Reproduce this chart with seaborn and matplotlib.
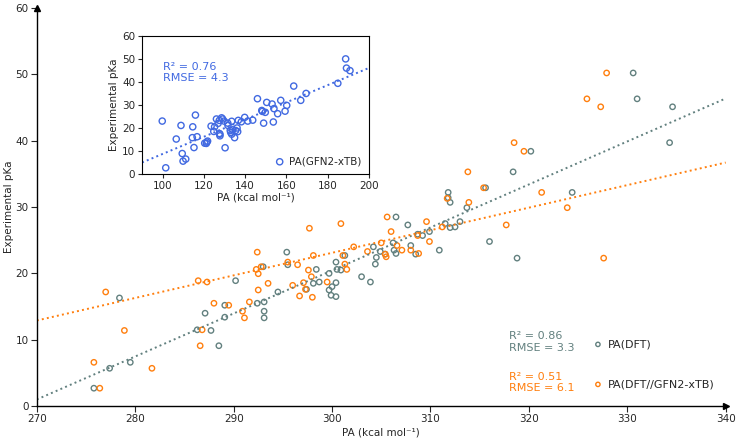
import numpy as np
import pandas as pd
import matplotlib
matplotlib.use("Agg")
import matplotlib.pyplot as plt
import seaborn as sns

# -------------------------------
# Data
# -------------------------------
dft_pa = [275.8, 277.4, 279.5, 287.1, 286.3, 287.7, 288.5, 289.1, 289.1, 292.4,
          293.1, 293.1, 293.1, 278.4, 290.2, 306.5, 307.7, 295.4, 295.5, 293.0,
          300.4, 301.3, 298.4, 299.7, 300.5, 300.9, 298.7, 298.1, 300.4, 297.4,
          299.7, 300.0, 299.9, 300.4, 294.5, 303.0, 303.9, 304.2, 304.4, 304.5,
          304.9, 305.4, 306.2, 306.3, 306.5, 308.0, 308.5, 308.7, 309.2, 320.2,
          318.4, 315.6, 311.8, 311.8, 312.0, 313.7, 324.4, 313.0, 311.5, 312.0,
          312.5, 309.9, 310.9, 316.0, 318.8, 330.6, 331.0, 334.6, 334.3]
dft_pka = [2.7, 5.7, 6.6, 14.0, 11.5, 11.4, 9.1, 15.2, 13.4, 15.5,
           15.7, 14.3, 13.3, 16.3, 18.9, 28.5, 27.3, 23.2, 21.3, 21.0,
           21.7, 22.7, 20.6, 20.0, 20.6, 20.5, 18.7, 18.5, 18.6, 17.6,
           17.5, 18.0, 16.7, 16.5, 17.2, 19.5, 18.7, 24.0, 21.4, 22.4,
           23.3, 22.9, 24.6, 23.5, 23.0, 24.2, 22.9, 25.9, 25.7, 38.4,
           35.3, 32.9, 32.2, 31.4, 30.7, 29.9, 32.2, 27.8, 27.5, 26.9,
           27.0, 26.3, 23.5, 24.8, 22.3, 50.2, 46.3, 45.1, 39.7]

xtb_pa = [275.8, 276.4, 278.9, 281.7, 286.6, 286.8, 288.0, 289.5, 290.9, 291.1,
          291.6, 277.0, 286.4, 287.3, 292.3, 292.4, 292.5, 292.5, 305.6, 297.7,
          300.9, 292.8, 293.5, 295.5, 296.5, 298.1, 297.6, 297.9, 297.1, 296.0,
          297.3, 296.7, 298.0, 299.5, 301.1, 301.3, 301.5, 302.2, 303.6, 305.0,
          306.0, 305.4, 305.5, 306.6, 307.1, 308.0, 308.7, 308.8, 309.6, 318.5,
          319.5, 313.8, 315.4, 321.3, 323.9, 311.7, 313.9, 311.2, 309.9, 317.7,
          327.9, 325.9, 327.3, 327.6]
xtb_pka = [6.6, 2.7, 11.4, 5.7, 9.1, 11.5, 15.5, 15.2, 14.3, 13.3,
           15.7, 17.2, 18.9, 18.7, 20.6, 23.2, 17.5, 19.95, 28.5, 26.8,
           27.5, 21.0, 18.5, 21.7, 21.3, 22.7, 20.5, 19.5, 18.6, 18.2,
           17.6, 16.6, 16.4, 18.7, 22.7, 21.4, 20.6, 24.0, 23.3, 24.6,
           26.3, 22.9, 22.5, 24.2, 23.5, 23.5, 25.7, 23.0, 27.8, 39.7,
           38.4, 35.3, 32.9, 32.2, 29.9, 31.3, 30.7, 27.0, 24.8, 27.3,
           50.2, 46.3, 45.1, 22.3]

gfn_pa = [101.5, 99.8, 106.6, 108.9, 109.5, 109.9, 111.2, 114.6, 114.4, 115.9,
          115.2, 116.7, 120.4, 121.4, 121.8, 121.2, 123.5, 124.8, 125.2, 126.1,
          126.9, 127.5, 127.8, 127.8, 127.5, 128.6, 129.1, 129.8, 130.3, 131.6,
          131.7, 132.8, 133.0, 133.5, 133.5, 134.0, 134.9, 135.4, 136.1, 136.4,
          136.7, 138.2, 139.8, 141.3, 143.7, 146.0, 148.1, 148.4, 149.0, 149.8,
          150.5, 153.1, 153.7, 154.0, 155.8, 157.3, 159.4, 160.2, 163.6, 167.0,
          169.6, 185.0, 188.8, 189.2, 190.9]
gfn_pka = [2.6, 22.9, 15.1, 21.0, 8.8, 5.5, 6.4, 20.4, 15.7, 25.5,
           11.4, 16.1, 13.3, 13.8, 14.2, 13.2, 20.7, 18.4, 20.4, 23.8,
           21.9, 23.2, 16.5, 17.2, 17.5, 24.3, 23.8, 22.9, 11.3, 22.0,
           21.0, 18.8, 18.0, 22.8, 17.2, 19.1, 15.7, 18.8, 19.9, 18.3,
           23.2, 22.6, 24.5, 22.9, 23.3, 32.6, 27.5, 27.1, 22.0, 26.7,
           31.0, 30.3, 22.5, 28.3, 26.1, 31.9, 27.2, 29.7, 38.1, 31.9,
           34.9, 39.3, 49.9, 45.9, 44.8]

# fitted lines as drawn in the figure: (slope, intercept)
fit_dft = (0.648, -173.96)
fit_xtb = (0.340, -78.9)
fit_gfn = (0.373, -28.67)

labels = ["PA(DFT)", "PA(DFT//GFN2-xTB)", "PA(GFN2-xTB)"]
stats = ["R\u00b2 = 0.86\nRMSE = 3.3", "R\u00b2 = 0.51\nRMSE = 6.1", "R\u00b2 = 0.76\nRMSE = 4.3"]

gray = "#62807f"
orange = "#ff7f0e"
blue = "#4169e1"

# -------------------------------
# Setup
# -------------------------------
sns.set_style("ticks")
plt.rcParams['font.family'] = ['DejaVu Sans']

fig = plt.figure(figsize=(7.36, 4.4), dpi=100)
ax = fig.add_axes([0.050, 0.077, 0.936, 0.905])
xlim = (270, 340)

for fit, col in [(fit_dft, gray), (fit_xtb, orange)]:
    xs = np.array(xlim)
    sns.lineplot(x=xs, y=np.polyval(fit, xs), ax=ax, color=col, ls=":", lw=1.4)

sns.scatterplot(x=dft_pa, y=dft_pka, ax=ax, marker="o", s=15, fc="none",
                ec=gray, linewidth=1.0, label=labels[0])
sns.scatterplot(x=xtb_pa, y=xtb_pka, ax=ax, marker="o", s=15, fc="none",
                ec=orange, linewidth=1.0, label=labels[1])

ax.set_xlim(*xlim)
ax.set_ylim(0, 60)
ax.set_xticks(np.arange(270, 341, 10))
ax.set_yticks(np.arange(0, 61, 10))
ax.tick_params(labelsize=7.5, length=4, width=0.8, pad=2)
ax.set_xlabel("PA (kcal mol\u207b\u00b9)", fontsize=7.5, labelpad=2)
ax.set_ylabel("Experimental pKa", fontsize=7.5, labelpad=1)
sns.despine(ax=ax)
for sp in ["left", "bottom"]:
    ax.spines[sp].set_linewidth(1.0)
    ax.spines[sp].set_color("black")
# arrow heads
ax.plot(1, 0, ">k", transform=ax.transAxes, clip_on=False, markersize=5)
ax.plot(0, 1, "^k", transform=ax.transAxes, clip_on=False, markersize=5)

ax.text(0.685, 0.161, stats[0], transform=ax.transAxes, color=gray,
        fontsize=8, va="center", linespacing=1.15)
ax.text(0.685, 0.06, stats[1], transform=ax.transAxes, color=orange,
        fontsize=8, va="center", linespacing=1.15)

leg = ax.legend(loc="center left", bbox_to_anchor=(0.80, 0.105), frameon=False,
                fontsize=8, handlelength=1.0, handletextpad=0.4,
                labelspacing=2.7, borderaxespad=0, markerscale=0.8)

# -------------------------------
# Inset
# -------------------------------
ins = fig.add_axes([0.193, 0.605, 0.308, 0.314])
ixlim = (90, 200)
xs = np.array(ixlim)
sns.lineplot(x=xs, y=np.polyval(fit_gfn, xs), ax=ins, color=blue, ls=":", lw=1.4)
sns.scatterplot(x=gfn_pa, y=gfn_pka, ax=ins, marker="o", s=20, fc="none",
                ec=blue, linewidth=1.0, label=labels[2])
ins.set_xlim(*ixlim)
ins.set_ylim(0, 60)
ins.set_xticks(np.arange(100, 201, 20))
ins.set_yticks(np.arange(0, 61, 10))
ins.tick_params(labelsize=7.5, length=3, width=0.8, pad=2)
ins.set_xlabel("PA (kcal mol\u207b\u00b9)", fontsize=7.5, labelpad=1)
ins.set_ylabel("Experimental pKa", fontsize=7.5, labelpad=2)
for sp in ins.spines.values():
    sp.set_linewidth(0.8)
    sp.set_color("black")
ins.text(0.094, 0.734, stats[2], transform=ins.transAxes, color=blue,
         fontsize=8, va="center", linespacing=1.1)
ins.legend(loc="lower right", frameon=False, fontsize=7.5, handlelength=1.0,
           handletextpad=0.4, borderaxespad=0.3)

fig.savefig("out.png", dpi=100)
